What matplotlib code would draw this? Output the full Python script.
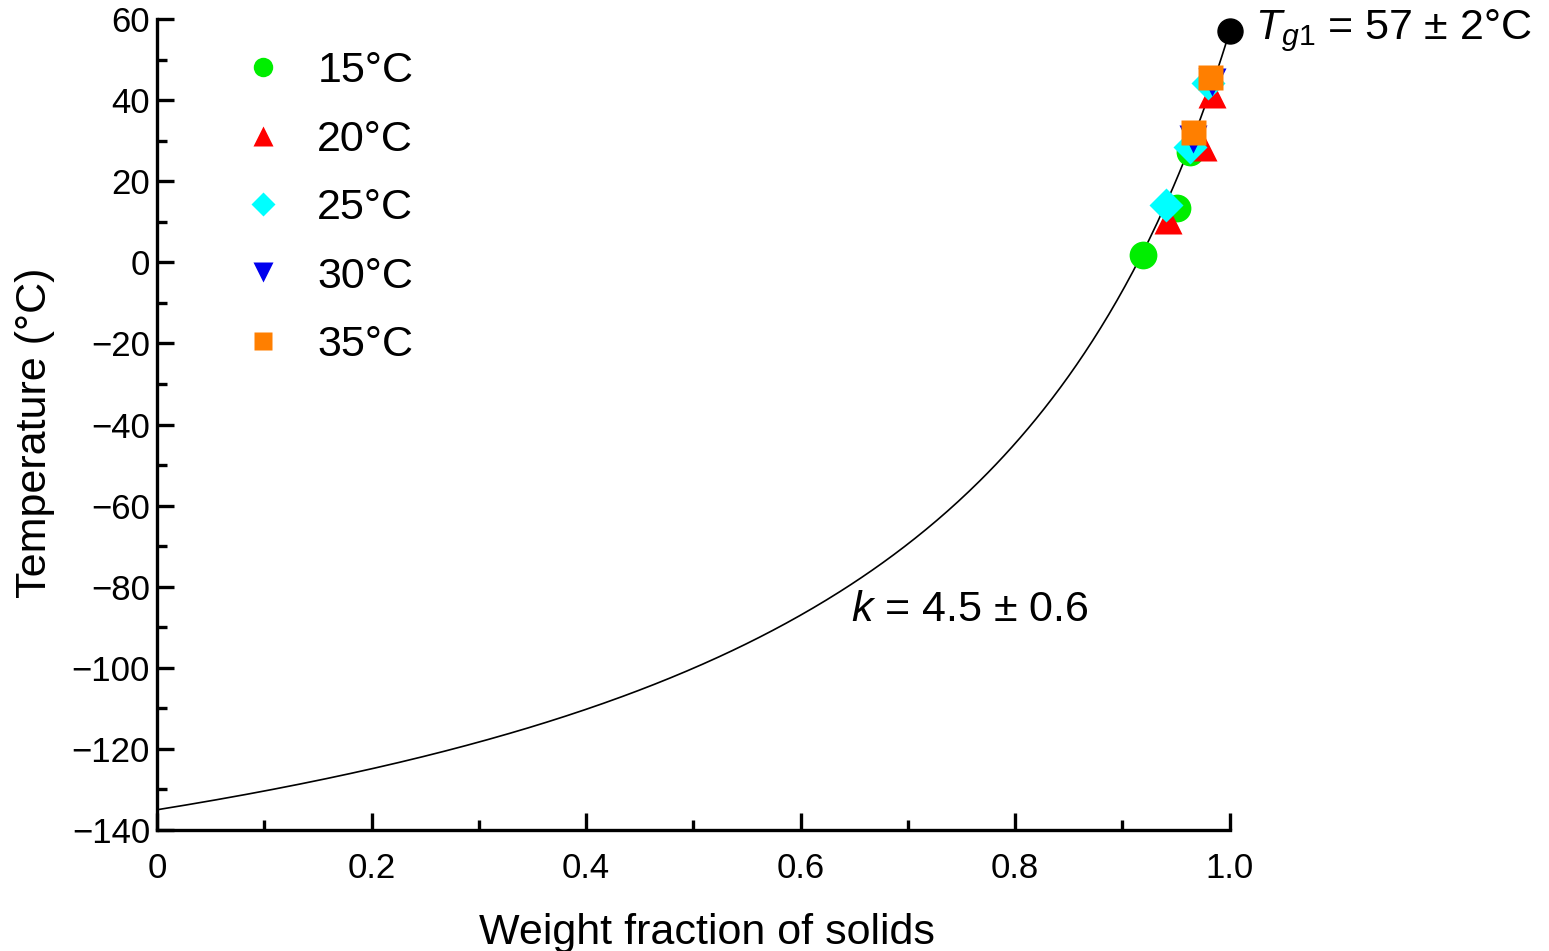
import numpy as np
import matplotlib
matplotlib.use('Agg')
import matplotlib.pyplot as plt
from matplotlib.ticker import MultipleLocator, FixedLocator

plt.rcParams['font.family'] = ['Liberation Sans', 'DejaVu Sans']
plt.rcParams['mathtext.fontset'] = 'custom'
plt.rcParams['mathtext.rm'] = 'Liberation Sans'
plt.rcParams['mathtext.it'] = 'Liberation Sans:italic'

# Gordon-Taylor parameters shown on the chart
Tg1 = 57
Tg2 = -135
k = 4.5

# measured points (weight fraction of solids, temperature)
w15 = [0.919, 0.951, 0.963]
t15 = [1.8, 13.4, 27.3]
w20 = [0.942, 0.975, 0.983]
t20 = [10.5, 28.5, 41.5]
w25 = [0.941, 0.963, 0.980]
t25 = [14.1, 28.5, 44.1]
w30 = [0.966, 0.983]
t30 = [30.5, 44.5]
w35 = [0.966, 0.982]
t35 = [32.2, 45.8]

w = np.linspace(0, 1, 400)
tg = (w * Tg1 + k * (1 - w) * Tg2) / (w + k * (1 - w))

fig = plt.figure(figsize=(15.49, 9.51), dpi=100)
ax = fig.add_axes([0.1014, 0.1272, 0.6925, 0.8528])

ax.plot(w, tg, color='black', lw=1.2, zorder=2)
ms = 20
ax.plot(w15, t15, 'o', color='#00ee00', ms=ms, mec='none', label='15°C', zorder=3)
ax.plot(w20, t20, '^', color='#ff0000', ms=ms, mec='none', label='20°C', zorder=4)
ax.plot(w25, t25, 'D', color='#00ffff', ms=ms * 0.85, mec='none', label='25°C', zorder=5)
ax.plot(w30, t30, 'v', color='#0000ee', ms=ms, mec='none', label='30°C', zorder=6)
ax.plot(w35, t35, 's', color='#ff7f00', ms=ms * 0.9, mec='none', label='35°C', zorder=7)
ax.plot([1.0], [Tg1], 'o', color='black', ms=18, zorder=8, clip_on=False)

ax.set_xlim(0, 1.0)
ax.set_ylim(-140, 60)
ax.spines['top'].set_visible(False)
ax.spines['right'].set_visible(False)
for s in ['left', 'bottom']:
    ax.spines[s].set_linewidth(2.4)

ax.xaxis.set_major_locator(FixedLocator([0, 0.2, 0.4, 0.6, 0.8, 1.0]))
ax.set_xticklabels(['0', '0.2', '0.4', '0.6', '0.8', '1.0'])
ax.xaxis.set_minor_locator(MultipleLocator(0.1))
ax.yaxis.set_major_locator(MultipleLocator(20))
ax.yaxis.set_minor_locator(MultipleLocator(10))
ax.tick_params(which='both', direction='in', width=2.4, labelsize=25)
ax.tick_params(which='major', length=12)
ax.tick_params(which='minor', length=7)
ax.tick_params(axis='y', pad=5)
ax.tick_params(axis='x', pad=16)

ax.set_xlabel('Weight fraction of solids', fontsize=31, labelpad=20, x=0.513)
ax.set_ylabel('Temperature (°C)', fontsize=31, labelpad=12, y=0.49)

ax.text(1.024, Tg1, '$T_{g1}$ = 57 ± 2°C', fontsize=31, va='center', ha='left',
        transform=ax.get_yaxis_transform(), clip_on=False)
ax.text(0.647, -85.8, '$k$ = 4.5 ± 0.6', fontsize=31, va='center', ha='left')

ax.legend(loc='upper left', bbox_to_anchor=(0.043, 1.008), frameon=False,
          fontsize=31, markerscale=0.7, handlelength=1.0, handletextpad=0.75,
          labelspacing=0.66, numpoints=1)

fig.savefig('out.png', dpi=100)
